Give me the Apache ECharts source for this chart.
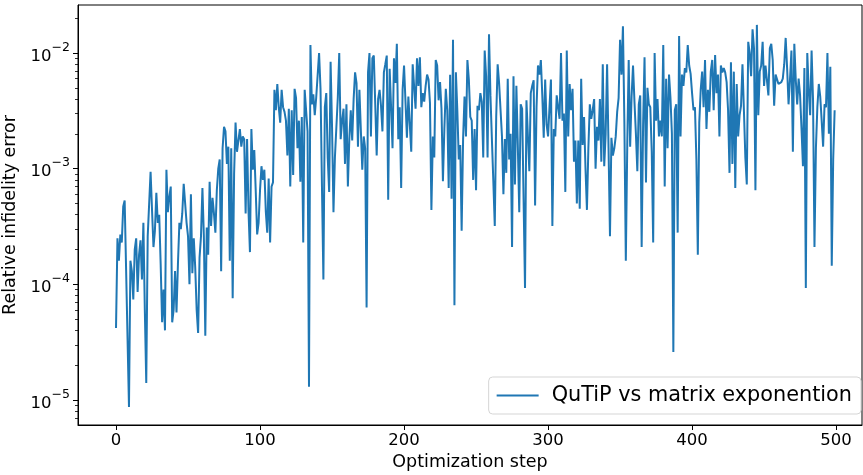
<!DOCTYPE html>
<html>
<head>
<meta charset="utf-8">
<script src="https://cdn.jsdelivr.net/npm/echarts@6/dist/echarts.min.js"></script>
<style>
  html, body { margin: 0; padding: 0; background: #fff; }
  #main { width: 863px; height: 475px; }
</style>
</head>
<body>
<div id="main"></div>
<script>
// relative infidelity error per optimization step
const infidelity = [
  4.2e-5, 2.5e-4, 1.6e-4, 2.7e-4, 2.3e-4, 4.7e-4, 5.3e-4, 1.35e-4, 3.4e-5, 8.7e-6,
  1.6e-4, 1.3e-4, 7.4e-5, 2e-4, 2.5e-4, 8.6e-5, 1.8e-4, 2.4e-4, 1.1e-4, 3.4e-4,
  6e-5, 1.4e-5, 2.6e-4, 2.7e-4, 9.4e-4, 4.4e-4, 2.1e-4, 2.9e-4, 6.2e-4, 3.4e-4,
  4e-4, 1.5e-4, 4.7e-5, 9e-5, 4e-5, 9.8e-4, 4.2e-4, 5.7e-4, 7e-4, 4.7e-5,
  6e-5, 1.3e-4, 5.7e-5, 1.5e-4, 3.4e-4, 3e-4, 4.1e-4, 7.4e-4, 7.3e-4, 3.4e-4,
  2.6e-4, 1e-4, 6e-4, 1.25e-4, 2.5e-4, 1.4e-4, 6e-5, 3.8e-5, 1.7e-4, 2.6e-4,
  6.8e-4, 2.6e-4, 3.6e-5, 3.1e-4, 1.8e-4, 7.7e-4, 3.2e-4, 5.6e-4, 4.1e-4, 2.8e-4,
  6.5e-4, 1e-3, 1.2e-3, 1.3e-4, 1.5e-3, 2.3e-3, 2.1e-3, 1.1e-3, 1.55e-3, 1.6e-4,
  1.5e-3, 7.6e-5, 9e-4, 2.5e-3, 1.4e-3, 1.45e-3, 2.2e-3, 1.55e-3, 1.9e-3, 1.8e-3,
  4.1e-4, 1.8e-3, 4.3e-4, 1.9e-4, 2.2e-3, 9.8e-4, 1.45e-3, 6.5e-4, 2.7e-4, 3.4e-4,
  6.5e-4, 1.05e-3, 8e-4, 9.8e-4, 4.3e-4, 2.8e-4, 8.2e-4, 2.3e-4, 7e-4, 7.6e-4,
  4.8e-3, 3.2e-3, 5.4e-3, 3.4e-3, 2.5e-3, 4.8e-3, 3.4e-3, 3.1e-3, 2.6e-3, 1.3e-3,
  3.3e-3, 7e-4, 3.2e-3, 8.8e-4, 4.9e-3, 4.1e-3, 1.5e-3, 2.6e-3, 7.7e-4, 2.8e-3,
  2.3e-4, 4.8e-3, 4.9e-3, 2.1e-3, 1.3e-5, 1.17e-2, 3.6e-3, 4.4e-3, 2.9e-3, 4.1e-3,
  4.2e-3, 1e-2, 4.9e-3, 7e-4, 1.1e-4, 3.4e-3, 4.5e-3, 1.25e-3, 6.3e-4, 8.4e-3,
  2.3e-3, 4.2e-4, 1.25e-3, 1.3e-3, 4.1e-3, 1e-2, 1.8e-3, 2.6e-3, 3.3e-3, 1.1e-3,
  3.6e-3, 7e-4, 1.8e-3, 3.2e-3, 1.75e-3, 4e-3, 6.8e-3, 5.5e-3, 1.55e-3, 4.8e-3,
  4.9e-3, 9.8e-4, 1.9e-3, 1.5e-3, 6.3e-5, 6.8e-3, 1e-2, 1.9e-3, 9e-3, 9.5e-3,
  3.6e-3, 1.3e-3, 4e-3, 4.8e-3, 3.5e-3, 2.1e-3, 6.8e-3, 8e-3, 9.5e-3, 5.4e-4,
  7.3e-3, 3.4e-3, 1.5e-3, 9e-3, 5.5e-3, 1.2e-2, 1.8e-3, 3.4e-3, 6.8e-4, 4.8e-3,
  7.8e-3, 7.7e-3, 1.85e-3, 4.2e-3, 4.1e-3, 1.4e-3, 8e-3, 8.3e-3, 3.3e-3, 9e-3,
  5.2e-3, 9.2e-3, 3.4e-3, 4.5e-3, 3.8e-3, 5.2e-3, 6.5e-3, 5.9e-3, 3.7e-3, 4.4e-4,
  1.9e-3, 1.25e-3, 8.7e-3, 7.8e-3, 3.9e-3, 5.6e-3, 3.3e-3, 7.8e-4, 2.2e-3, 4.9e-3,
  3.2e-3, 6.8e-4, 6.5e-3, 5.5e-4, 1.3e-2, 6.6e-5, 6.8e-3, 3.2e-3, 1.2e-3, 1.6e-3,
  2.9e-4, 1.8e-3, 4.2e-3, 1.9e-3, 8.7e-3, 5.9e-3, 2.8e-3, 2.6e-3, 8e-4, 2.2e-3,
  6.5e-4, 3.5e-3, 3.2e-3, 4.5e-3, 3.8e-3, 1.25e-3, 1.05e-2, 6.3e-3, 1.25e-3, 1.45e-2,
  4.3e-3, 1.8e-3, 7.8e-4, 3.2e-4, 2.8e-3, 8e-3, 5.5e-3, 5.7e-3, 1.9e-3, 6e-4,
  1.8e-3, 9.2e-4, 6e-3, 1.2e-3, 2e-3, 2.1e-4, 6.3e-3, 7.3e-4, 5.2e-3, 1.6e-3,
  4.2e-4, 3.6e-3, 3.3e-3, 3.2e-3, 9.3e-5, 3.9e-3, 4e-3, 9.5e-4, 4.5e-3, 5.2e-3,
  5.8e-3, 4.8e-4, 3.4e-3, 7.8e-3, 6.5e-3, 8.7e-3, 4.3e-3, 1.85e-3, 5.9e-3, 2.4e-3,
  1.9e-3, 3.4e-3, 5.9e-3, 3.2e-4, 2.2e-3, 1.9e-3, 4.3e-3, 3.4e-3, 2.7e-3, 1e-2,
  2.6e-3, 3e-3, 6.3e-4, 1.05e-2, 1.9e-3, 5.4e-3, 3.2e-3, 4.9e-3, 1.15e-3, 1.75e-3,
  5e-4, 1.75e-3, 4.5e-4, 6e-3, 1.6e-3, 2.8e-3, 1e-3, 4.4e-4, 1.5e-3, 3.6e-3,
  2.7e-3, 3.2e-3, 4e-3, 1e-3, 2.3e-3, 1.75e-3, 4e-3, 1.15e-3, 8e-3, 1.05e-3,
  2e-3, 8e-3, 1.5e-3, 2.6e-4, 1.85e-3, 1.3e-3, 1.5e-3, 1.9e-3, 3.1e-3, 4.1e-3,
  1.3e-2, 6.5e-3, 1.7e-2, 2.5e-3, 1.6e-4, 1.6e-3, 8.7e-3, 1.55e-3, 4.2e-3, 7.8e-3,
  3.8e-3, 2e-3, 9.5e-4, 3.6e-3, 4.3e-3, 2.1e-4, 2.4e-3, 9.2e-3, 7.6e-4, 5e-3,
  3.6e-3, 3.4e-3, 1.4e-3, 2.3e-4, 1e-2, 2.6e-3, 4e-3, 1.9e-3, 2.6e-3, 1.9e-3,
  1.17e-2, 7e-4, 6e-3, 1.5e-3, 6.5e-3, 4.1e-3, 2e-3, 2.6e-5, 3.2e-3, 3.6e-3,
  2.8e-4, 1.4e-2, 1.9e-3, 6.5e-3, 5.2e-3, 7.4e-3, 6.8e-3, 1.17e-2, 7.8e-3, 6.6e-3,
  4.5e-3, 3.2e-3, 3.4e-3, 1.2e-3, 1.8e-4, 2.5e-3, 4.8e-3, 6.9e-3, 3.4e-3, 8.7e-3,
  2.2e-3, 4.8e-3, 3.1e-3, 6.9e-3, 8.7e-3, 3.2e-3, 9.6e-3, 4.5e-3, 6.5e-3, 1.9e-3,
  7.8e-3, 6.8e-3, 7.4e-3, 6.8e-3, 5.6e-3, 3.2e-3, 9.2e-4, 8.3e-3, 1.1e-3, 6.9e-3,
  6.8e-4, 5.4e-3, 1.9e-3, 2.9e-3, 3.5e-3, 8e-3, 3.2e-3, 1.25e-3, 7.3e-4, 1.25e-2,
  1e-2, 6.3e-3, 1.6e-2, 1.1e-2, 6.5e-4, 1.75e-2, 2.9e-3, 6.9e-3, 7.8e-3, 1.25e-2,
  5.2e-3, 7.8e-3, 8e-3, 4.3e-3, 1.1e-2, 1.2e-2, 8.7e-3, 3.5e-3, 6.5e-3, 6.3e-3,
  5.4e-3, 5.2e-3, 5.6e-3, 6e-3, 8e-3, 1.35e-2, 7.4e-3, 3.6e-3, 5.9e-3, 1.05e-2,
  1.4e-3, 1.2e-2, 5.9e-3, 3.6e-3, 6e-3, 4.3e-3, 2.2e-3, 1.05e-3, 7.4e-3, 9.3e-5,
  1e-2, 4.8e-3, 2.9e-3, 1.05e-2, 3.9e-3, 2.1e-4, 1.5e-3, 3.4e-3, 5.4e-3, 4.2e-3,
  2.6e-3, 1.55e-3, 3.6e-3, 3.4e-3, 1e-2, 2e-3, 7.6e-3, 1.45e-4, 1.2e-3, 3.2e-3
];
const xTicks = [0, 100, 200, 300, 400, 500];
const yTicks = [1e-5, 1e-4, 1e-3, 1e-2];
const yMinorTicks = [];
[1e-6, 1e-5, 1e-4, 1e-3, 1e-2].forEach(function (d) {
  for (let k = 2; k <= 9; k++) yMinorTicks.push(k * d);
});
const seriesName = 'QuTiP vs matrix exponention';

const yMin = 6.08e-6, yMax = 0.026;
const minorInRange = yMinorTicks.filter(v => v > yMin && v < yMax);

const chart = echarts.init(document.getElementById('main'));
const font = 'DejaVu Sans';

chart.setOption({
  animation: false,
  textStyle: { fontFamily: font },
  grid: {
    left: 78, right: 1, top: 5, bottom: 50,
    outerBoundsMode: 'none',
    containLabel: false,
    show: true, borderColor: '#000', borderWidth: 1, backgroundColor: 'transparent'
  },
  legend: {
    right: 2, bottom: 61,
    data: [{ name: seriesName, icon: 'rect' }],
    backgroundColor: '#fff',
    borderColor: '#d5d5d5', borderWidth: 1, borderRadius: 4,
    padding: [8, 9, 8, 8],
    itemWidth: 42, itemHeight: 2, itemGap: 10,
    textStyle: { fontSize: 20.8, color: '#000', fontFamily: font, padding: [0, 0, 0, 8] }
  },
  xAxis: {
    type: 'value',
    min: -26.4, max: 518,
    name: 'Optimization step',
    nameLocation: 'middle', nameGap: 28,
    nameTextStyle: { fontSize: 17.5, color: '#000' },
    splitLine: { show: false },
    axisLine: { show: true, onZero: false, lineStyle: { color: '#000' } },
    axisTick: { show: true, customValues: xTicks, length: 5, lineStyle: { color: '#000' } },
    axisLabel: { customValues: xTicks, fontSize: 16.5, color: '#000', margin: 7 }
  },
  yAxis: [{
    type: 'log', logBase: 10,
    min: yMin, max: yMax,
    name: 'Relative infidelity error',
    nameLocation: 'middle', nameGap: 51,
    nameTextStyle: { fontSize: 17.5, color: '#000' },
    splitLine: { show: false },
    axisLine: { show: true, onZero: false, lineStyle: { color: '#000' } },
    axisTick: { show: true, customValues: yTicks, length: 5, lineStyle: { color: '#000' } },
    axisLabel: {
      customValues: yTicks, margin: 8, color: '#000',
      formatter: function (v) {
        const e = Math.round(Math.log10(v));
        return '{b|10}{s|\u2212' + Math.abs(e) + '}';
      },
      rich: {
        b: { fontSize: 16.5, lineHeight: 24, verticalAlign: 'bottom', color: '#000', fontFamily: font },
        s: { fontSize: 12.5, lineHeight: 24, verticalAlign: 'top', color: '#000', fontFamily: font }
      }
    }
  }, {
    type: 'log', logBase: 10,
    position: 'left',
    min: yMin, max: yMax,
    splitLine: { show: false },
    axisLine: { show: false, onZero: false },
    axisTick: { show: true, customValues: minorInRange, length: 3, lineStyle: { color: '#000', width: 0.8 } },
    axisLabel: { show: false }
  }],
  series: [{
    name: seriesName,
    type: 'line',
    data: infidelity.map((v, i) => [i, v]),
    symbol: 'none',
    lineStyle: { color: '#1f77b4', width: 2 },
    itemStyle: { color: '#1f77b4' }
  }]
});
</script>
</body>
</html>
